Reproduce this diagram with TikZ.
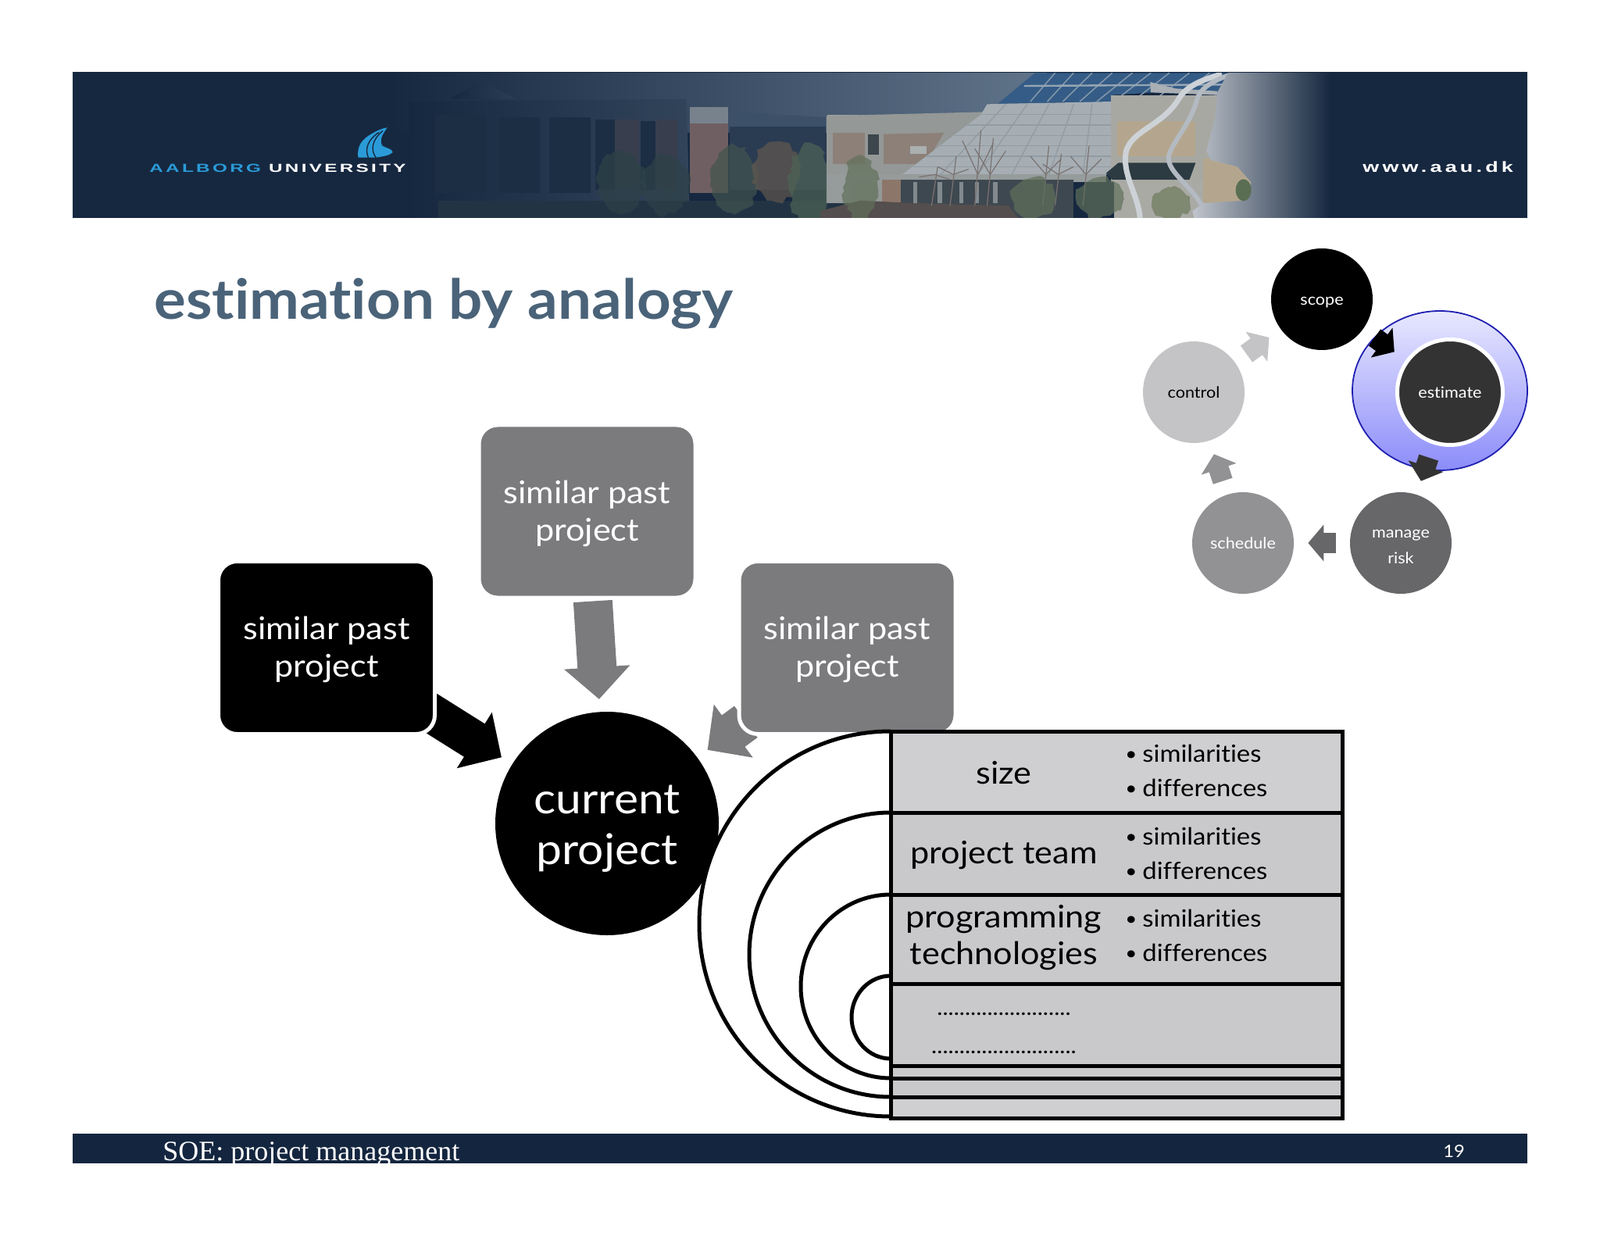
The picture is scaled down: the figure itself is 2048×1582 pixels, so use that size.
\documentclass[tikz,border=0pt]{standalone}
\usepackage{fontspec}
\usetikzlibrary{arrows.meta,shapes.geometric,decorations.pathmorphing}
\setmainfont{Lato}[Ligatures=CommonOff,FakeStretch=1.08]
\newfontfamily\serifsl{Liberation Serif}
\newfontfamily\aaufont[LetterSpace=22,FakeStretch=1.62]{Liberation Sans}
\newfontfamily\wwwfont[LetterSpace=22,FakeStretch=1.42]{Liberation Sans}
\definecolor{bannerbg}{HTML}{162840}
\definecolor{footbg}{HTML}{14263F}
\definecolor{titleblue}{HTML}{4A6379}
\definecolor{aaublue}{HTML}{2A9BD8}
\definecolor{boxgray}{HTML}{7B7A7D}
\definecolor{rowa}{HTML}{CFCFD1}
\definecolor{rowb}{HTML}{C9C8CB}
\definecolor{cycdark}{HTML}{333333}
\definecolor{cycmid}{HTML}{676669}
\definecolor{cycsoft}{HTML}{929194}
\definecolor{cyclight}{HTML}{C4C3C6}
\pgfdeclarelayer{back}
\pgfsetlayers{back,main}
\tikzset{
  simbox/.style={rectangle,rounded corners=12pt,draw=white,line width=2.5pt,
    minimum width=138.5pt,minimum height=110.5pt,inner sep=0pt,text=white,align=center,
    font=\fontsize{20}{24}\selectfont},
  bigarrow/.style={line width=25pt,draw=#1,-{Triangle[length=20.5pt,width=41pt]}},
  cycnode/.style={circle,minimum size=65pt,inner sep=0pt,align=center,
    font=\fontsize{10}{16.5}\selectfont},
  cycarrow/.style={line width=13pt,draw=#1,-{Triangle[length=10pt,width=23pt]},
    shorten >=9pt,shorten <=9pt},
  rowbox/.style={rectangle,draw=black,line width=2.5pt,inner sep=0pt,outer sep=0pt,minimum width=289pt},
  rowlabel/.style={align=center,font=\fontsize{20}{23.5}\selectfont},
  bulletlist/.style={anchor=west,align=left,inner sep=0pt,font=\fontsize{15.2}{22}\selectfont},
  arcline/.style={draw=black,line width=2.5pt,fill=white},
  roofline/.style={draw={#1},line width=.5pt},
  leaf/.style={fill={#1},opacity=.7,decorate,decoration={random steps,segment length=3pt,amplitude=1.6pt}}
}
\newcommand{\bul}[1]{\makebox[11pt][l]{\raisebox{1pt}{\fontsize{12}{12}\selectfont\textbullet}}#1}
\begin{document}
\begin{tikzpicture}[x=0.5pt,y=-0.5pt]
\useasboundingbox (0,0) rectangle (2048,1582);
\begin{pgfonlayer}{back}
\fill[white] (0,0) rectangle (2048,1582);
\end{pgfonlayer}
% ---------- banner ----------
\fill[bannerbg] (93,92.5) rectangle (1955,279);
\begin{scope}
\clip (93,93.5) rectangle (1955,279);
\shade[left color=bannerbg,right color={rgb,255:red,96;green,116;blue,138}] (500,93) rectangle (1340,170);
% dark building (zoom scale)
\begin{scope}[shift={(500,90)},x=.19135pt,y=-.16667pt]
  \shade[left color=bannerbg,right color={rgb,255:red,50;green,68;blue,90}]
    (60,120) -- (990,110) -- (1000,567) -- (60,567) -- cycle;
  \shade[left color=bannerbg,right color={rgb,255:red,44;green,62;blue,84}]
    (200,110) -- (300,40) -- (420,110) -- cycle;
  \foreach \a/\b/\c/\d in {150/320/170/470,360/500/180/470,530/670/180/470,685/750/190/460,835/885/195/460}
    \fill[color={rgb,255:red,27;green,46;blue,68}] (\a,\c) rectangle (\b,\d);
  \fill[color={rgb,255:red,56;green,62;blue,78}] (750,190) rectangle (830,460);
  \fill[color={rgb,255:red,56;green,62;blue,78}] (885,190) rectangle (960,460);
  % tower
  \fill[color={rgb,255:red,112;green,95;blue,98}] (1000,205) rectangle (1130,470);
  \fill[color={rgb,255:red,120;green,130;blue,140}] (1000,140) rectangle (1130,205);
  % band and windows right
  \fill[color={rgb,255:red,60;green,80;blue,104}] (1135,160) -- (1455,180) -- (1455,225) -- (1135,215) -- cycle;
  \fill[color={rgb,255:red,42;green,60;blue,82}] (1135,215) rectangle (1455,460);
  \fill[color={rgb,255:red,160;green,163;blue,160}] (1460,170) rectangle (1568,240);
  \fill[color={rgb,255:red,140;green,128;blue,122}] (1470,240) rectangle (1568,360);
  \fill[color={rgb,255:red,150;green,155;blue,155}] (1460,360) rectangle (1568,510);
  % ground + trees
  \fill[color={rgb,255:red,34;green,52;blue,68}] (160,500) rectangle (1568,567);
  \fill[leaf={rgb,255:red,46;green,66;blue,72}] (770,430) ellipse [x radius=15pt,y radius=20pt];
  \fill[leaf={rgb,255:red,46;green,66;blue,72}] (920,440) ellipse [x radius=15pt,y radius=19pt];
  \fill[leaf={rgb,255:red,66;green,84;blue,78}] (1150,420) ellipse [x radius=15pt,y radius=22pt];
  \fill[leaf={rgb,255:red,98;green,88;blue,78}] (1290,390) ellipse [x radius=15pt,y radius=19pt];
  \fill[leaf={rgb,255:red,78;green,100;blue,86}] (1400,440) ellipse [x radius=13pt,y radius=26pt];
\end{scope}
% bright building (zoom scale)
\begin{scope}[shift={(1050,90)},x=.1977pt,y=-.16667pt]
  % wall
  \fill[color={rgb,255:red,148;green,152;blue,150}] (20,175) -- (530,160) -- (530,500) -- (20,510) -- cycle;
  \fill[color={rgb,255:red,140;green,128;blue,120}] (40,240) rectangle (145,360);
  \fill[color={rgb,255:red,140;green,128;blue,120}] (205,245) -- (400,240) -- (340,360) -- (205,360) -- cycle;
  \fill[color={rgb,255:red,60;green,70;blue,76}] (155,245) rectangle (190,325);
  \fill[color={rgb,255:red,170;green,175;blue,176}] (290,290) rectangle (345,320);
  % blue panes
  \fill[color={rgb,255:red,52;green,92;blue,134}] (695,10) -- (1320,10) -- (1285,85) -- (1075,85) -- (945,95) -- (940,122) -- (575,128) -- cycle;
  \foreach \a/\b in {760/680,820/735,880/785,945/840,1010/895,1070/950,1130/1010,1195/1075,1260/1145}
    \draw[roofline={rgb,255:red,130;green,150;blue,170},line width=.8pt] (\a,10) -- (\b,120);
  \draw[color={rgb,255:red,150;green,165;blue,180},line width=1.2pt] (660,60) -- (1300,55);
  \fill[color={rgb,255:red,170;green,175;blue,180}] (1070,85) -- (1068,45) -- (1150,70) -- (1285,80) -- (1285,95) -- cycle;
  % glass roof
  \fill[color={rgb,255:red,166;green,174;blue,180}] (540,130) -- (945,120) -- (945,400) -- (265,400) -- (520,170) -- cycle;
  \foreach \a/\b in {600/390,670/510,740/620,820/740,880/850}
    \draw[roofline={rgb,255:red,146;green,156;blue,163},line width=.7pt] (\a,130) -- (\b,400);
  \foreach \y/\l in {170/520,210/475,250/435,290/390,330/345,370/300}
    \draw[roofline={rgb,255:red,146;green,156;blue,163},line width=.7pt] (\l,\y) -- (945,\y);
  % right tan block
  \fill[color={rgb,255:red,168;green,168;blue,162}] (940,95) rectangle (1285,430);
  \fill[color={rgb,255:red,180;green,166;blue,142}] (960,195) rectangle (1215,330);
  \fill[color={rgb,255:red,44;green,58;blue,66}] (925,395) -- (965,355) -- (1215,355) -- (1195,420) -- (945,420) -- cycle;
  \fill[color={rgb,255:red,180;green,166;blue,142}] (1240,340) rectangle (1400,515);
  % entrance
  \fill[color={rgb,255:red,150;green,155;blue,156}] (20,400) rectangle (925,430);
  \fill[color={rgb,255:red,170;green,170;blue,165}] (950,425) rectangle (1240,567);
  \fill[color={rgb,255:red,62;green,72;blue,80}] (260,420) rectangle (820,567);
  \foreach \x in {300,380,450,500,560}
    \fill[color={rgb,255:red,130;green,138;blue,142}] (\x,430) rectangle ++(14,80);
  \fill[color={rgb,255:red,150;green,155;blue,156}] (25,400) rectangle (100,510);
  \fill[color={rgb,255:red,140;green,118;blue,106}] (200,420) rectangle (260,510);
  % ground
  \fill[color={rgb,255:red,84;green,78;blue,78}] (0,567) -- (0,540) -- (130,500) -- (300,510) -- (610,520) -- (640,567) -- cycle;
  % bare trees
  \foreach \x/\t in {500/230,540/260,720/290,760/320,850/290,360/370,420/330}{
    \draw[color={rgb,255:red,122;green,114;blue,112},line width=.6pt] (\x,520) -- (\x+20,\t);
    \draw[color={rgb,255:red,122;green,114;blue,112},line width=.6pt] (\x+10,400) -- (\x-40,\t+40);
    \draw[color={rgb,255:red,122;green,114;blue,112},line width=.6pt] (\x+10,400) -- (\x+60,\t+50);
  }
  % green trees
  \fill[leaf={rgb,255:red,96;green,112;blue,90}] (130,450) ellipse [x radius=11pt,y radius=20pt];
  \fill[leaf={rgb,255:red,96;green,112;blue,90}] (690,490) ellipse [x radius=14pt,y radius=13pt];
  \fill[leaf={rgb,255:red,96;green,112;blue,90}] (905,490) ellipse [x radius=15pt,y radius=13pt];
  \fill[leaf={rgb,255:red,110;green,122;blue,92}] (1135,510) ellipse [x radius=12pt,y radius=10pt];
  % ribbons
  \draw[color={rgb,255:red,205;green,210;blue,215},line width=3.5pt] (1035,567) .. controls (1030,480) and (975,400) .. (990,310) .. controls (1010,230) and (1110,210) .. (1160,110) .. controls (1180,70) and (1220,40) .. (1300,15);
  \draw[color={rgb,255:red,180;green,186;blue,194},line width=3pt] (1235,520) .. controls (1200,440) and (1110,380) .. (1130,320) .. controls (1150,260) and (1200,200) .. (1220,110) .. controls (1230,70) and (1270,40) .. (1320,20);
  % right gradient
  \shade[left color={rgb,255:red,192;green,197;blue,204},right color=bannerbg]
    (1320,9) -- (1285,85) -- (1278,180) -- (1250,310) -- (1265,345) -- (1350,370) -- (1395,430) -- (1375,500) -- (1240,510) -- (1205,540) -- (1210,567) -- (1650,567) -- (1650,9) -- cycle;
  \fill[color={rgb,255:red,90;green,110;blue,84}] (1370,460) ellipse [x radius=5pt,y radius=7pt];
\end{scope}
\end{scope}
% logo
\begin{scope}[shift={(170,150)},x=.16667pt,y=-.16667pt]
  \fill[aaublue] (865,155) .. controls (860,110) and (880,85) .. (915,65) .. controls (940,50) and (960,42) .. (977,40) .. controls (960,65) and (945,85) .. (958,110) .. controls (975,120) and (995,120) .. (998,135) .. controls (985,148) and (960,150) .. (935,155) -- (915,155) -- (900,155) -- cycle;
  \draw[bannerbg,line width=.7pt] (905,157) .. controls (888,120) and (905,85) .. (945,58);
  \draw[bannerbg,line width=.7pt] (935,157) .. controls (910,125) and (920,85) .. (960,52);
\end{scope}
\node[anchor=base west,inner sep=0pt,font=\aaufont\bfseries\fontsize{7.5}{8}\selectfont,text=aaublue] (aau) at (191,221) {AALBORG \textcolor{white}{UNIVERSITY}};
\node[anchor=base west,inner sep=0pt,font=\wwwfont\bfseries\fontsize{9.5}{10}\selectfont,text=white] (www) at (1744,221) {www.aau.dk};
% ---------- title ----------
\node[anchor=base west,inner sep=0pt,text=titleblue,font=\bfseries\fontsize{35.3}{40}\selectfont] (title) at (197,409) {estimation by analogy};
% ---------- main diagram ----------
\node[simbox,fill=black] (simA) at (418,829) {\rule{0pt}{17pt}similar past\\project};
\node[simbox,fill=boxgray] (simB) at (751.5,654.5) {\rule{0pt}{18pt}similar past\\project};
\node[simbox,fill=boxgray] (simC) at (1084.5,829) {\rule{0pt}{17pt}similar past\\project};
\node[circle,fill=black,minimum size=143pt,inner sep=0pt,text=white,align=center,font=\fontsize{27.2}{32.5}\selectfont] (cur) at (777,1054) {\rule{0pt}{24.5pt}current\\project};
\begin{pgfonlayer}{back}
  \draw[bigarrow=black,shorten >=8pt,shorten <=-8pt] (simA) -- (cur);
  \draw[bigarrow=boxgray,shorten >=8pt,shorten <=1pt] (simB) -- (cur);
  \draw[bigarrow=boxgray,shorten >=8pt,shorten <=-7pt] (simC) -- (cur);
\end{pgfonlayer}
% arcs
\draw[arcline] (1140,936) arc[start angle=90,end angle=270,x radius=122.5pt,y radius=123.25pt];
\draw[arcline] (1140,1040) arc[start angle=90,end angle=270,x radius=90.5pt,y radius=91pt];
\draw[arcline] (1140,1145) arc[start angle=90,end angle=270,x radius=57.5pt,y radius=58.75pt];
\draw[arcline] (1140,1249) arc[start angle=90,end angle=270,x radius=25pt,y radius=26.5pt];
% table
\node[rowbox,fill=rowa,anchor=north west,minimum height=52pt] (rowA) at (1140,936) {};
\node[rowbox,fill=rowb,anchor=north west,minimum height=52.5pt] (rowB) at (1140,1040) {};
\node[rowbox,fill=rowb,anchor=north west,minimum height=57pt] (rowC) at (1140,1145) {};
\node[rowbox,fill=rowb,anchor=north west,minimum height=52.5pt] (rowD) at (1140,1259) {};
\node[rowbox,fill=rowb,anchor=north west,minimum height=8pt] (rowE) at (1140,1364) {};
\node[rowbox,fill=rowb,anchor=north west,minimum height=12pt] (rowF) at (1140,1380) {};
\node[rowbox,fill=rowa,anchor=north west,minimum height=13.5pt] (rowG) at (1140,1404) {};
\node[rowlabel] (lsize) at (1285,989) {size};
\node[rowlabel] (lteam) at (1285,1095) {project team};
\node[rowlabel] (lprog) at (1285,1200) {programming\\technologies};
\node[bulletlist] (bA) at (1440,986.5) {\bul{similarities}\\\bul{differences}};
\node[bulletlist] (bB) at (1440,1092) {\bul{similarities}\\\bul{differences}};
\node[bulletlist] (bC) at (1440,1197) {\bul{similarities}\\\bul{differences}};
\node[anchor=base,inner sep=0pt,font=\fontsize{14}{16}\selectfont] (dotA) at (1285,1299) {........................};
\node[anchor=base,inner sep=0pt,font=\fontsize{14}{16}\selectfont] (dotB) at (1285,1348) {..........................};
% ---------- process cycle ----------
\node[ellipse,draw={rgb,255:red,32;green,32;blue,176},line width=.9pt,top color={rgb,255:red,232;green,232;blue,255},bottom color={rgb,255:red,140;green,140;blue,250},minimum width=112pt,minimum height=102pt,inner sep=0pt] (halo) at (1843,500) {};
\node[cycnode,fill=black,text=white] (scope) at (1692,383) {\rule{0pt}{9pt}scope};
\node[cycnode,fill=cycdark,draw=white,line width=2.5pt,minimum size=67.5pt,text=white] (estimate) at (1856,502) {estimate};
\node[cycnode,fill=cycmid,text=white] (risk) at (1793,695) {\rule{0pt}{10pt}manage\\risk};
\node[cycnode,fill=cycsoft,text=white] (schedule) at (1591,695) {schedule};
\node[cycnode,fill=cyclight,text=black] (control) at (1528,502) {control};
\draw[cycarrow=black] (scope) -- (estimate);
\draw[cycarrow=cycdark] (estimate) -- (risk);
\draw[cycarrow=cycmid] (risk) -- (schedule);
\draw[cycarrow=cycsoft] (schedule) -- (control);
\draw[cycarrow=cyclight] (control) -- (scope);
% ---------- footer ----------
\fill[footbg] (93,1451) rectangle (1955,1489);
\node[anchor=base west,inner sep=0pt,text=white,font=\serifsl\fontsize{18}{20}\selectfont] (foot) at (208,1485) {SOE: project management};
\node[inner sep=0pt,text=white,font=\fontsize{11}{12}\selectfont] (pageno) at (1861,1474) {19};
\end{tikzpicture}
\end{document}
